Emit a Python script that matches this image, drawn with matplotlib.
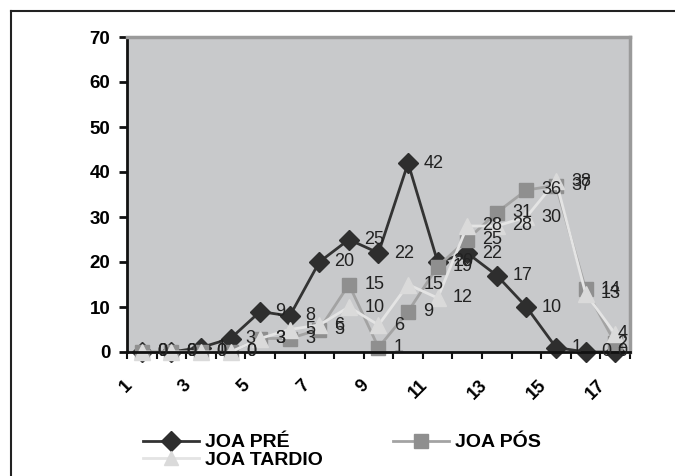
import matplotlib
matplotlib.use("Agg")
import matplotlib.pyplot as plt
from matplotlib.lines import Line2D
from matplotlib.transforms import ScaledTranslation

plt.rcParams['font.family'] = ['Liberation Sans', 'DejaVu Sans']

categories = list(range(1, 18))
tick_labels = ['1', '3', '5', '7', '9', '11', '13', '15', '17']
joa_pre = [0, 0, 1, 3, 9, 8, 20, 25, 22, 42, 20, 22, 17, 10, 1, 0, 0]
joa_pos = [0, 0, 0, 0, 3, 3, 5, 15, 1, 9, 19, 25, 31, 36, 37, 14, 2]
joa_tardio = [0, 0, 0, 0, 3, 5, 6, 10, 6, 15, 12, 28, 28, 30, 38, 13, 4]

series = [
    ('JOA PRÉ', joa_pre, 'D', '#333333', '#2e2e2e', 10),
    ('JOA PÓS', joa_pos, 's', '#a3a3a3', '#8f8f8f', 10.5),
    ('JOA TARDIO', joa_tardio, '^', '#e4e4e4', '#dadada', 11),
]

fig = plt.figure(figsize=(6.75, 4.76), dpi=100)
ax = fig.add_axes([127 / 675, 1 - 352 / 476, 503 / 675, 315 / 476])
ax.set_facecolor('#c8c9cb')

handles = {}
for name, vals, mk, lc, mc, ms in series:
    ln, = ax.plot(categories, vals, color=lc, lw=2, marker=mk, ms=ms,
                  mfc=mc, mec=mc, clip_on=False, label=name)
    handles[name] = ln

# value labels to the right of each point; last column pulled back inside
for name, vals, mk, lc, mc, ms in series:
    for x, v in zip(categories, vals):
        if x == categories[-1]:
            ax.annotate(str(v), (x + 0.5, v), xytext=(-2, 0), textcoords='offset points',
                        ha='right', va='center', fontsize=13, color='#222222')
        else:
            ax.annotate(str(v), (x, v), xytext=(11, 0), textcoords='offset points',
                        ha='left', va='center', fontsize=13, color='#222222')

ax.set_xlim(0.5, 17.5)
ax.set_ylim(0, 70)
ax.set_yticks(range(0, 71, 10))
ax.set_xticks(categories[::2])
ax.set_xticklabels(tick_labels, rotation=45, ha='right', va='center',
                   rotation_mode='anchor', fontsize=13, fontweight='bold')
ax.set_xticks([c + 0.5 for c in [0] + categories], minor=True)
ax.tick_params(axis='x', which='major', length=0, pad=22)
ax.tick_params(axis='x', which='minor', length=5, width=1.5, direction='out', color='#111111')
ax.tick_params(axis='y', length=6, width=2, direction='out', color='#111111',
               labelsize=13.5, pad=6)
for lab in ax.get_yticklabels():
    lab.set_fontweight('bold')
shift = ScaledTranslation(-9 / 72, 0, fig.dpi_scale_trans)
for lab in ax.get_xticklabels():
    lab.set_transform(lab.get_transform() + shift)

for side in ['left', 'bottom']:
    ax.spines[side].set_color('#111111')
    ax.spines[side].set_linewidth(2)
for side in ['top', 'right']:
    ax.spines[side].set_color('#9a9a9a')
    ax.spines[side].set_linewidth(2.5)

leg = fig.legend([handles['JOA PRÉ'], handles['JOA TARDIO'], handles['JOA PÓS']],
                 ['JOA PRÉ', 'JOA TARDIO', 'JOA PÓS'],
                 ncol=2, loc='upper left', bbox_to_anchor=(133 / 675, 1 - 424 / 476),
                 frameon=False, borderpad=0, handlelength=2.9, handletextpad=0.3,
                 columnspacing=3.6, labelspacing=0.0, prop={'weight': 'bold', 'size': 14})
for h in leg.legend_handles:
    h.set_markersize(10)

# outer frame (left and top edges)
fig.add_artist(Line2D([11 / 675, 11 / 675], [0, 1 - 11 / 476], transform=fig.transFigure,
                      color='#222222', lw=1.5))
fig.add_artist(Line2D([11 / 675, 1], [1 - 11 / 476, 1 - 11 / 476], transform=fig.transFigure,
                      color='#222222', lw=1.5))

fig.savefig('out.png', dpi=100, facecolor='white')
